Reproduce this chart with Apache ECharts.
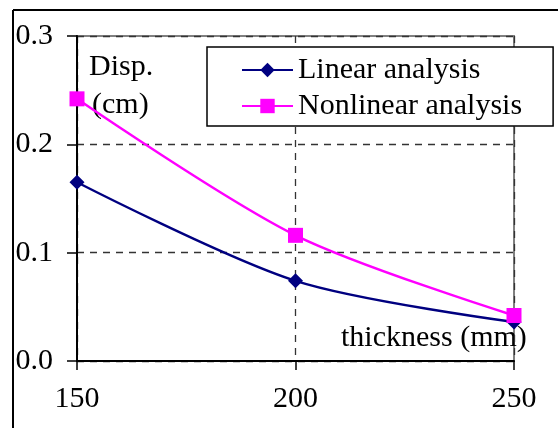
<!DOCTYPE html>
<html>
<head>
<meta charset="utf-8">
<script src="https://cdn.jsdelivr.net/npm/echarts@6/dist/echarts.min.js"></script>
<style>
html,body{margin:0;padding:0;background:#fff;}
#chart{width:558px;height:428px;}
</style>
</head>
<body>
<div id="chart"></div>
<script>
var thickness = [150, 200, 250];
var linearDisp = [0.165, 0.074, 0.036];
var nonlinearDisp = [0.242, 0.116, 0.042];
var yTicks = [0.0, 0.1, 0.2, 0.3];
var seriesNames = ['Linear analysis', 'Nonlinear analysis'];

var FONT = '"Liberation Serif", "Times New Roman", serif';
function pairs(xs, ys){ return xs.map(function(x,i){ return [x, ys[i]]; }); }

var chart = echarts.init(document.getElementById('chart'), null, {renderer:'canvas'});
chart.setOption({
  animation: false,
  backgroundColor: '#fff',
  textStyle: {fontFamily: FONT},
  grid: {left: 77, top: 36, right: 44, bottom: 67, show: true, borderColor: '#808080', borderWidth: 2, backgroundColor: 'transparent'},
  xAxis: {
    type: 'value', min: thickness[0], max: thickness[thickness.length-1], interval: 50,
    axisLine: {show: true, lineStyle: {color: '#000', width: 2}},
    axisTick: {show: true, inside: false, length: 9, lineStyle: {color: '#000', width: 1.5}},
    axisLabel: {margin: 23, fontSize: 30, color: '#000', fontFamily: FONT},
    splitLine: {show: true, lineStyle: {color: '#333', type: [7, 6], width: 1.3}}
  },
  yAxis: {
    type: 'value', min: yTicks[0], max: yTicks[yTicks.length-1], interval: 0.1,
    axisLine: {show: true, lineStyle: {color: '#000', width: 2}},
    axisTick: {show: true, inside: false, length: 10, lineStyle: {color: '#000', width: 1.5}},
    axisLabel: {margin: 24, fontSize: 30, color: '#000', fontFamily: FONT,
      formatter: function(v){ return v.toFixed(1); }},
    splitLine: {show: true, lineStyle: {color: '#333', type: [7, 6], width: 1.3}}
  },
  legend: {
    orient: 'vertical', left: 207, top: 47,
    padding: [8, 31, 5, 34], itemGap: 6, itemWidth: 51, itemHeight: 18,
    backgroundColor: '#fff', borderColor: '#000', borderWidth: 1.5,
    textStyle: {fontSize: 30, color: '#000', fontFamily: FONT, lineHeight: 30},
    data: seriesNames
  },
  series: [
    {name: seriesNames[0], type: 'line', data: pairs(thickness, linearDisp), smooth: 0.3,
     symbol: 'diamond', symbolSize: 15, lineStyle: {color: '#000080', width: 2.4},
     itemStyle: {color: '#000080'}},
    {name: seriesNames[1], type: 'line', data: pairs(thickness, nonlinearDisp), smooth: 0.3,
     symbol: 'rect', symbolSize: 15, lineStyle: {color: '#FF00FF', width: 2.4},
     itemStyle: {color: '#FF00FF'}}
  ],
  graphic: [
    {type: 'line', shape: {x1: 13, y1: 10, x2: 558, y2: 10}, style: {stroke: '#000', lineWidth: 2}},
    {type: 'line', shape: {x1: 13, y1: 10, x2: 13, y2: 428}, style: {stroke: '#000', lineWidth: 2}},
    {type: 'text', style: {x: 89, y: 67, text: 'Disp.', font: '30px ' + FONT, fill: '#000', verticalAlign: 'middle'}},
    {type: 'text', style: {x: 92, y: 105, text: '(cm)', font: '30px ' + FONT, fill: '#000', verticalAlign: 'middle'}},
    {type: 'text', style: {x: 341, y: 338, text: 'thickness (mm)', font: '30px ' + FONT, fill: '#000', verticalAlign: 'middle'}}
  ]
});
</script>
</body>
</html>
